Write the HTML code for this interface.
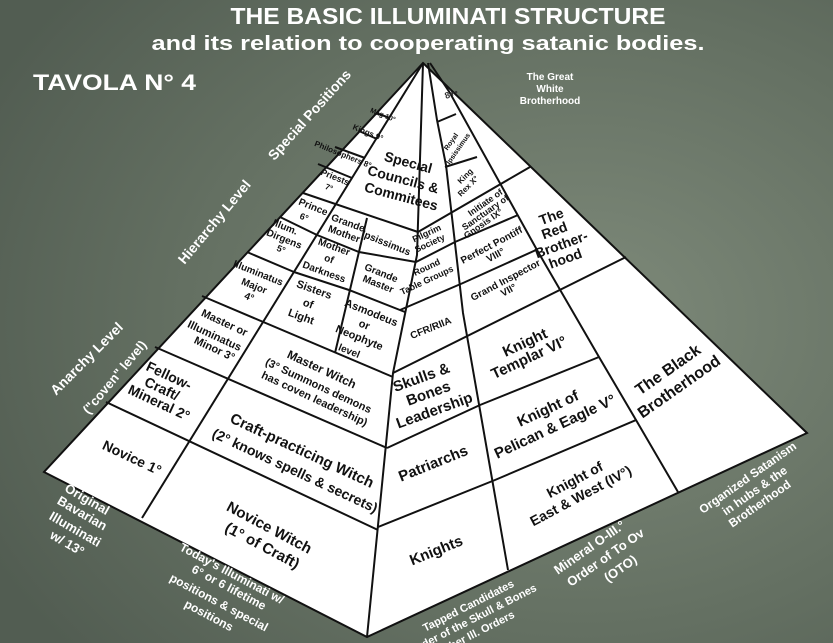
<!DOCTYPE html>
<html><head><meta charset="utf-8"><style>
html,body{margin:0;padding:0;background:#5e6a5d;}
svg{display:block;}
text{font-family:"Liberation Sans",sans-serif;}
.c{fill:#111;font-weight:bold;text-anchor:middle;}
.w{fill:#fff;font-weight:bold;text-anchor:middle;}
</style></head><body>
<svg width="833" height="643" viewBox="0 0 833 643" xmlns="http://www.w3.org/2000/svg">
<defs>
<radialGradient id="bg" cx="0.7" cy="0.5" r="0.8">
<stop offset="0" stop-color="#7e8a7a"/><stop offset="0.6" stop-color="#647062"/><stop offset="1" stop-color="#525d52"/>
</radialGradient>
</defs>
<rect width="833" height="643" fill="url(#bg)"/>
<text x="448" y="24" class="w" font-size="23" textLength="435" lengthAdjust="spacingAndGlyphs">THE BASIC ILLUMINATI STRUCTURE</text>
<text x="428" y="50" class="w" font-size="20" textLength="553" lengthAdjust="spacingAndGlyphs">and its relation to cooperating satanic bodies.</text>
<text x="33" y="90" fill="#fff" font-weight="bold" font-size="22" textLength="163" lengthAdjust="spacingAndGlyphs">TAVOLA N° 4</text>

<polygon points="423,63 807,433 367,637 44,472" fill="#fff" stroke="#111" stroke-width="2"/>
<g stroke="#111" stroke-width="2" fill="none">
<polyline points="423,63 417,255 393,373 367,637"/>
<line x1="423" y1="63" x2="142" y2="518"/>
<line x1="367" y1="218" x2="335" y2="353"/>
<line x1="106" y1="402" x2="378" y2="530"/>
<line x1="155" y1="347" x2="387" y2="448"/>
<line x1="202" y1="296" x2="393" y2="377"/>
<line x1="247" y1="252" x2="294" y2="272"/>
<polyline points="294,272 349,290 405,312"/>
<line x1="280" y1="217" x2="317" y2="235"/>
<polyline points="317,235 359,252 416,262"/>
<line x1="303" y1="193" x2="418" y2="232"/>
<line x1="318" y1="164" x2="352" y2="178"/>
<line x1="335" y1="147" x2="365" y2="158"/>
<line x1="359" y1="131" x2="377" y2="139"/>
<line x1="376" y1="113" x2="390" y2="118"/>
<polyline points="428,63 437,120 446,165 463,313 508,570"/>
<polyline points="430,63 450,93 537,250 599,357 636,420 678,492"/>
<line x1="418" y1="232" x2="530" y2="167"/>
<polyline points="416,262 455,242 518,215"/>
<polyline points="400,310 463,283 536,250"/>
<line x1="393" y1="373" x2="626" y2="257"/>
<polyline points="387,448 480,405 599,357"/>
<polyline points="378,527 495,480 636,420"/>
<line x1="437" y1="122" x2="456" y2="114"/>
<line x1="445" y1="167" x2="477" y2="157"/>
</g>
<text x="446" y="99" font-size="9" fill="#333" font-weight="bold" transform="rotate(-20 446 99)">8+•</text>

<g class="c">
<text x="130" y="462" font-size="14" transform="rotate(25 130 462)">Novice 1°</text>
<text x="267" y="532" font-size="15" transform="rotate(28 267 532)">Novice Witch</text>
<text x="260" y="550" font-size="15" transform="rotate(28 260 550)">(1° of Craft)</text>
<text x="300" y="455" font-size="15" transform="rotate(25 300 455)">Craft-practicing Witch</text>
<text x="293" y="475" font-size="14" transform="rotate(25 293 475)">(2° knows spells &amp; secrets)</text>
<text x="320" y="373" font-size="12" transform="rotate(25 320 373)">Master Witch</text>
<text x="317" y="389" font-size="11" transform="rotate(25 317 389)">(3° Summons demons</text>
<text x="313" y="402" font-size="11" transform="rotate(25 313 402)">has coven leadership)</text>
<text x="167" y="380" font-size="14" transform="rotate(25 167 380)">Fellow-</text>
<text x="160" y="393" font-size="14" transform="rotate(25 160 393)">Craft/</text>
<text x="157" y="407" font-size="14" transform="rotate(25 157 407)">Mineral 2°</text>
<text x="223" y="326" font-size="11" transform="rotate(25 223 326)">Master or</text>
<text x="213" y="339" font-size="11" transform="rotate(25 213 339)">Illuminatus</text>
<text x="213" y="352" font-size="11" transform="rotate(25 213 352)">Minor 3°</text>
<text x="257" y="276" font-size="10" transform="rotate(22 257 276)">Illuminatus</text>
<text x="253" y="289" font-size="10" transform="rotate(22 253 289)">Major</text>
<text x="248" y="300" font-size="10" transform="rotate(22 248 300)">4°</text>
<text x="284" y="230" font-size="10" transform="rotate(22 284 230)">Illum.</text>
<text x="283" y="242" font-size="10" transform="rotate(22 283 242)">Dirgens</text>
<text x="280" y="252" font-size="9" transform="rotate(22 280 252)">5°</text>
<text x="312" y="210" font-size="10" transform="rotate(22 312 210)">Prince</text>
<text x="303" y="220" font-size="9" transform="rotate(22 303 220)">6°</text>
<text x="334" y="180" font-size="9" transform="rotate(22 334 180)">Priests</text>
<text x="328" y="190" font-size="8" transform="rotate(22 328 190)">7°</text>
<text x="342" y="157" font-size="8" transform="rotate(22 342 157)">Philosophers 8°</text>
<text x="367" y="135" font-size="8" transform="rotate(22 367 135)">Kings 9°</text>
<text x="382" y="117" font-size="7" transform="rotate(22 382 117)">Mag 10°</text>
<text x="313" y="293" font-size="11" transform="rotate(20 313 293)">Sisters</text>
<text x="307" y="307" font-size="11" transform="rotate(20 307 307)">of</text>
<text x="300" y="320" font-size="11" transform="rotate(20 300 320)">Light</text>
<text x="333" y="250" font-size="10" transform="rotate(20 333 250)">Mother</text>
<text x="328" y="262" font-size="10" transform="rotate(20 328 262)">of</text>
<text x="323" y="275" font-size="10" transform="rotate(20 323 275)">Darkness</text>
<text x="347" y="226" font-size="10" transform="rotate(20 347 226)">Grande</text>
<text x="343" y="237" font-size="10" transform="rotate(20 343 237)">Mother</text>
<text x="385" y="246" font-size="10" transform="rotate(22 385 246)">Ipsissimus</text>
<text x="380" y="276" font-size="10" transform="rotate(22 380 276)">Grande</text>
<text x="377" y="287" font-size="10" transform="rotate(22 377 287)">Master</text>
<text x="370" y="316" font-size="11" transform="rotate(22 370 316)">Asmodeus</text>
<text x="363" y="328" font-size="11" transform="rotate(22 363 328)">or</text>
<text x="358" y="341" font-size="11" transform="rotate(22 358 341)">Neophyte</text>
<text x="348" y="354" font-size="10" transform="rotate(22 348 354)">level</text>
<text x="407" y="167" font-size="14" transform="rotate(15 407 167)">Special</text>
<text x="402" y="184" font-size="14" transform="rotate(15 402 184)">Councils &amp;</text>
<text x="400" y="201" font-size="14" transform="rotate(15 400 201)">Commitees</text>
</g>

<g class="c">
<text x="428" y="236" font-size="9" transform="rotate(-25 428 236)">Pilgrim</text>
<text x="431" y="246" font-size="9" transform="rotate(-25 431 246)">Society</text>
<text x="428" y="270" font-size="9" transform="rotate(-25 428 270)">Round</text>
<text x="428" y="283" font-size="9" transform="rotate(-25 428 283)">Table Groups</text>
<text x="432" y="331" font-size="10" transform="rotate(-22 432 331)">CFR/RIIA</text>
<text x="423" y="382" font-size="15" transform="rotate(-20 423 382)">Skulls &amp;</text>
<text x="430" y="398" font-size="15" transform="rotate(-20 430 398)">Bones</text>
<text x="436" y="415" font-size="15" transform="rotate(-20 436 415)">Leadership</text>
<text x="435" y="468" font-size="15" transform="rotate(-22 435 468)">Patriarchs</text>
<text x="438" y="555" font-size="15" transform="rotate(-22 438 555)">Knights</text>
<text x="453" y="143" font-size="7" transform="rotate(-55 453 143)">Royal</text>
<text x="460" y="150" font-size="7" transform="rotate(-55 460 150)">Ipsissimus</text>
<text x="467" y="178" font-size="8" transform="rotate(-45 467 178)">King</text>
<text x="470" y="188" font-size="8" transform="rotate(-45 470 188)">Rex X°</text>
<text x="487" y="205" font-size="9" transform="rotate(-35 487 205)">Initiate of</text>
<text x="487" y="215" font-size="9" transform="rotate(-35 487 215)">Sanctuary of</text>
<text x="485" y="226" font-size="9" transform="rotate(-35 485 226)">Gnosis IX°</text>
<text x="493" y="248" font-size="10" transform="rotate(-28 493 248)">Perfect Pontiff</text>
<text x="497" y="258" font-size="10" transform="rotate(-28 497 258)">VIII°</text>
<text x="507" y="283" font-size="10" transform="rotate(-28 507 283)">Grand Inspector</text>
<text x="510" y="293" font-size="10" transform="rotate(-28 510 293)">VII°</text>
<text x="527" y="347" font-size="15" transform="rotate(-25 527 347)">Knight</text>
<text x="531" y="362" font-size="15" transform="rotate(-25 531 362)">Templar VI°</text>
<text x="550" y="413" font-size="15" transform="rotate(-25 550 413)">Knight of</text>
<text x="557" y="431" font-size="15" transform="rotate(-25 557 431)">Pelican &amp; Eagle V°</text>
<text x="577" y="484" font-size="14" transform="rotate(-28 577 484)">Knight of</text>
<text x="583" y="500" font-size="14" transform="rotate(-28 583 500)">East &amp; West (IV°)</text>
<text x="671" y="374" font-size="16" transform="rotate(-35 671 374)">The Black</text>
<text x="682" y="391" font-size="16" transform="rotate(-35 682 391)">Brotherhood</text>
<text x="553" y="221" font-size="14" transform="rotate(-20 553 221)">The</text>
<text x="556" y="235" font-size="14" transform="rotate(-20 556 235)">Red</text>
<text x="563" y="249" font-size="14" transform="rotate(-20 563 249)">Brother-</text>
<text x="567" y="263" font-size="14" transform="rotate(-20 567 263)">hood</text>
</g>

<g class="w">
<text x="550" y="80" font-size="10">The Great</text>
<text x="550" y="92" font-size="10">White</text>
<text x="550" y="104" font-size="10">Brotherhood</text>
<text x="313" y="118" font-size="14" transform="rotate(-48 313 118)">Special Positions</text>
<text x="218" y="225" font-size="14" transform="rotate(-50 218 225)">Hierarchy Level</text>
<text x="90" y="362" font-size="14" transform="rotate(-45 90 362)">Anarchy Level</text>
<text x="118" y="380" font-size="13" transform="rotate(-50 118 380)">("coven" level)</text>
<text x="85" y="503" font-size="13" transform="rotate(30 85 503)">Original</text>
<text x="80" y="517" font-size="13" transform="rotate(30 80 517)">Bavarian</text>
<text x="73" y="533" font-size="13" transform="rotate(30 73 533)">Illuminati</text>
<text x="65" y="547" font-size="13" transform="rotate(30 65 547)">w/ 13°</text>
<text x="230" y="577" font-size="12" transform="rotate(28 230 577)">Today's Illuminati w/</text>
<text x="227" y="591" font-size="12" transform="rotate(28 227 591)">6° or 6 lifetime</text>
<text x="217" y="606" font-size="12" transform="rotate(28 217 606)">positions &amp; special</text>
<text x="207" y="619" font-size="12" transform="rotate(28 207 619)">positions</text>
<text x="470" y="609" font-size="11" transform="rotate(-27 470 609)">Tapped Candidates</text>
<text x="475" y="622" font-size="11" transform="rotate(-27 475 622)">Order of the Skull &amp; Bones</text>
<text x="478" y="636" font-size="11" transform="rotate(-27 478 636)">Other Ill. Orders</text>
<text x="592" y="551" font-size="13" transform="rotate(-35 592 551)">Mineral O-III.°</text>
<text x="608" y="561" font-size="13" transform="rotate(-35 608 561)">Order of To Ov</text>
<text x="623" y="572" font-size="13" transform="rotate(-35 623 572)">(OTO)</text>
<text x="750" y="481" font-size="12" transform="rotate(-35 750 481)">Organized Satanism</text>
<text x="757" y="494" font-size="12" transform="rotate(-35 757 494)">in hubs &amp; the</text>
<text x="762" y="507" font-size="12" transform="rotate(-35 762 507)">Brotherhood</text>
</g>
</svg>
</body></html>
